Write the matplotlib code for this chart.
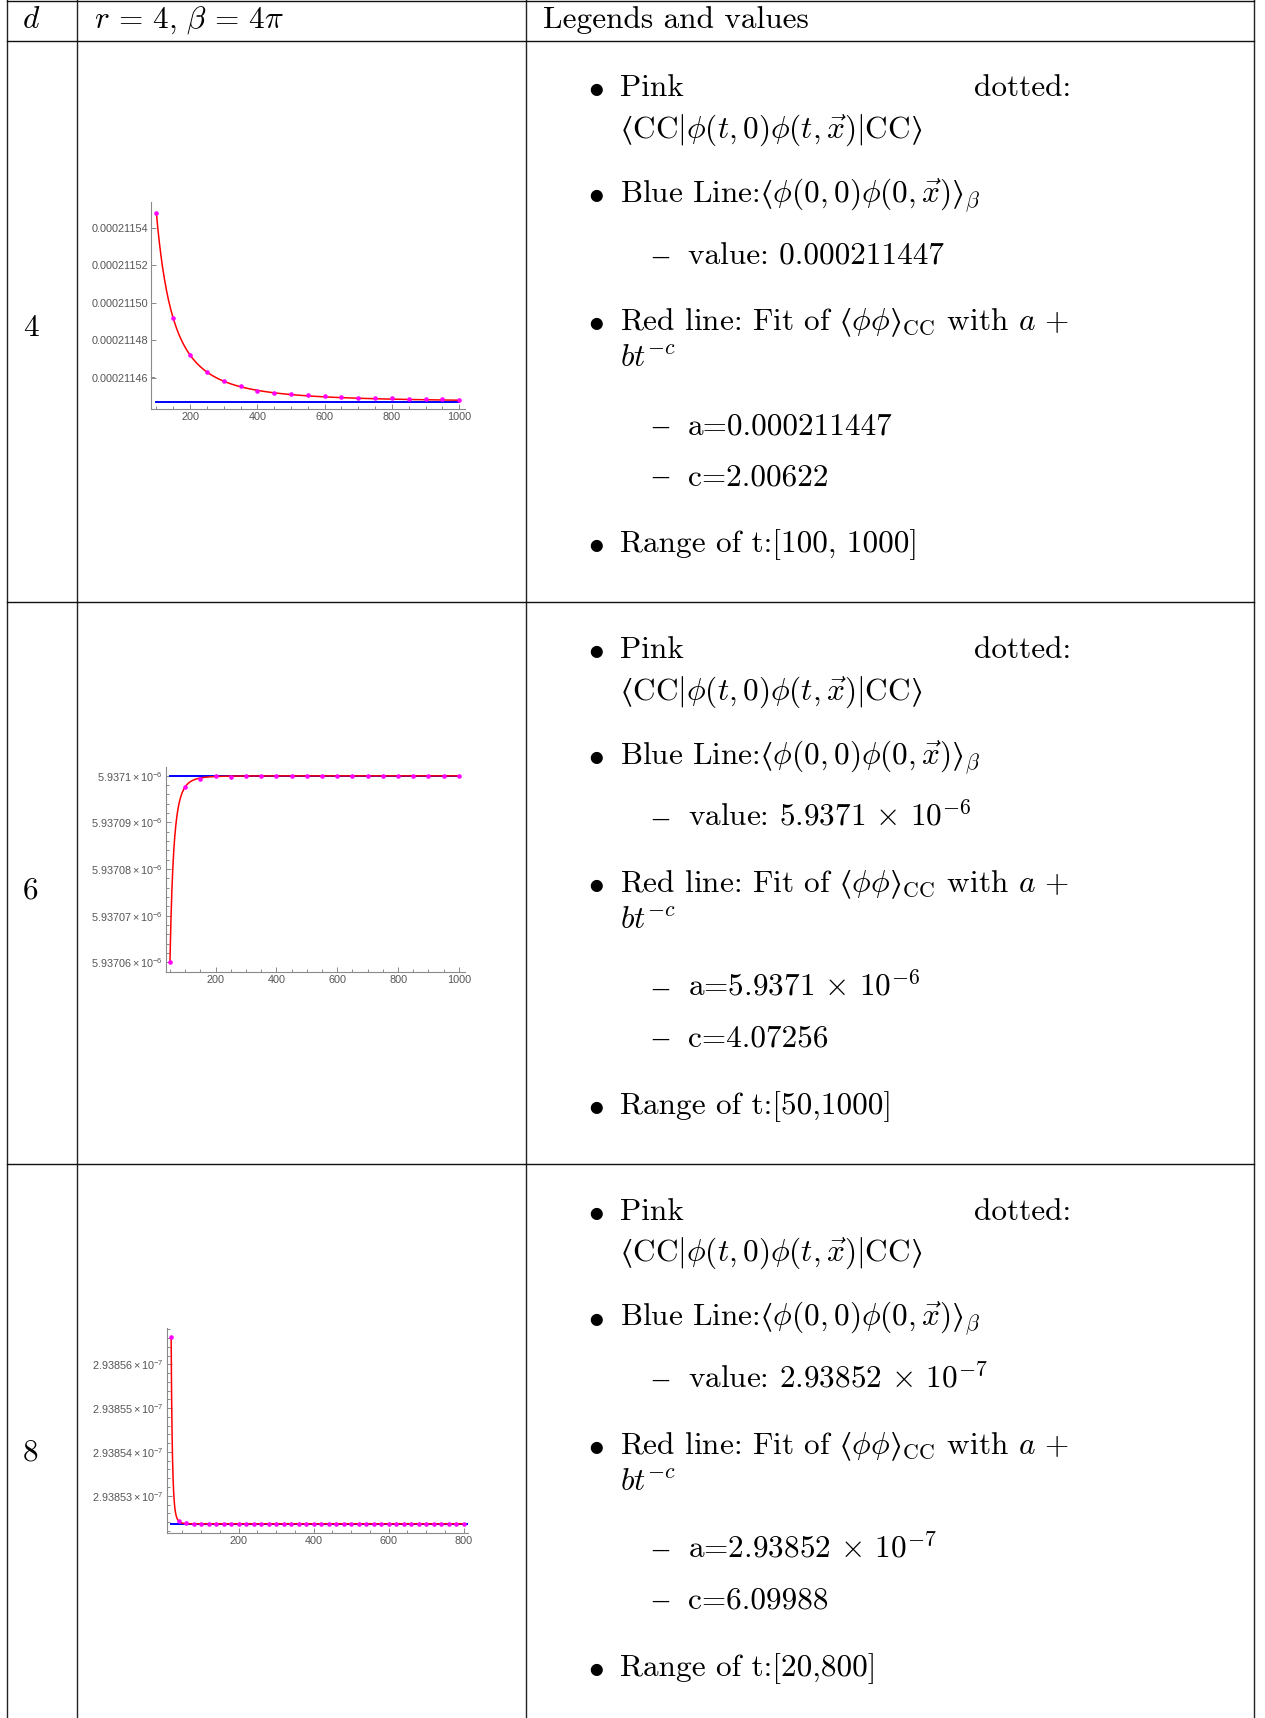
import numpy as np
import matplotlib.pyplot as plt
from matplotlib.lines import Line2D
from matplotlib.ticker import FixedLocator, FuncFormatter

plt.rcParams['mathtext.fontset'] = 'custom'
plt.rcParams['mathtext.rm'] = 'Liberation Sans'
plt.rcParams['mathtext.it'] = 'Liberation Sans:italic'
plt.rcParams['mathtext.bf'] = 'Liberation Sans:bold'

W, H = 1265, 1718

# ---- data ----
d_vals = ['4', '6', '8']

t1 = [100, 150, 200, 250, 300, 350, 400, 450, 500, 550, 600, 650, 700, 750, 800, 850, 900, 950, 1000]
cc1 = [2.115477e-4, 2.114918e-4, 2.114721e-4, 2.114632e-4, 2.114584e-4, 2.114554e-4, 2.114531e-4,
       2.114518e-4, 2.114511e-4, 2.114506e-4, 2.114500e-4, 2.114497e-4, 2.114492e-4, 2.114490e-4,
       2.114490e-4, 2.114485e-4, 2.114485e-4, 2.114485e-4, 2.114483e-4]
a1, c1 = 0.000211447, 2.00622

t2 = [50, 100, 150, 200, 250, 300, 350, 400, 450, 500, 550, 600, 650, 700, 750, 800, 850, 900, 950, 1000]
cc2 = [5.9370600e-6, 5.9370976e-6, 5.9370994e-6, 5.9370999e-6, 5.9370998e-6] + [5.9371000e-6] * 15
a2, c2 = 5.9371e-6, 4.07256

t3 = [20, 40, 60, 80, 100, 120, 140, 160, 180, 200, 220, 240, 260, 280, 300, 320, 340, 360, 380, 400,
      420, 440, 460, 480, 500, 520, 540, 560, 580, 600, 620, 640, 660, 680, 700, 720, 740, 760, 780, 800]
cc3 = [2.9385662e-7, 2.9385243e-7, 2.9385237e-7] + [2.9385236e-7] * 37
a3, c3 = 2.9385236e-7, 6.09988

yt1 = [0.00021146, 0.00021148, 0.00021150, 0.00021152, 0.00021154]
yt2 = [5.93706e-6, 5.93707e-6, 5.93708e-6, 5.93709e-6, 5.93710e-6]
yt3 = [2.93853e-7, 2.93854e-7, 2.93855e-7, 2.93856e-7]
xt1 = [200, 400, 600, 800, 1000]
xt3 = [200, 400, 600, 800]

value_txt = ['value: 0.000211447', r'value: $5.9371\,\times\,10^{-6}$', r'value: $2.93852\,\times\,10^{-7}$']
a_txt = ['a=0.000211447', r'a=$5.9371\,\times\,10^{-6}$', r'a=$2.93852\,\times\,10^{-7}$']
c_txt = ['c=2.00622', 'c=4.07256', 'c=6.09988']
range_txt = ['Range of t:[100, 1000]', 'Range of t:[50,1000]', 'Range of t:[20,800]']


def fx(x):
    return x / W


def fy(y):
    return 1 - y / H


fig = plt.figure(figsize=(W / 100, H / 100), dpi=100)

# table lines
lw = 1.0
for x in [7, 77, 526, 1254]:
    fig.add_artist(Line2D([fx(x), fx(x)], [fy(0), fy(H)], color='#222222', lw=lw))
for y in [1, 40.5, 602.4, 1164.2]:
    fig.add_artist(Line2D([fx(7), fx(1254)], [fy(y), fy(y)], color='#111111', lw=lw))

fs = 22.5
tkw = dict(fontsize=fs, family='cmr10', math_fontfamily='cm', va='baseline')

# header
fig.text(fx(31), fy(28), r'$d$', ha='center', **tkw)
fig.text(fx(94), fy(28), r'$r\,=\,4,\,\beta\,=\,4\pi$', ha='left', **tkw)
fig.text(fx(543), fy(28), 'Legends and values', ha='left', **tkw)

lang, rang = '\u27e8', '\u27e9'

row_tops = [40.5, 602.4, 1164.2]
for i, top in enumerate(row_tops):
    fig.text(fx(31), fy(top + 296), d_vals[i], ha='center', **tkw)
    bx, tx, dx, sx = 596, 620, 660, 688

    def bullet(off):
        fig.text(fx(bx), fy(top + off), r'$\bullet$', ha='center', **tkw)

    def dash(off):
        fig.text(fx(dx), fy(top + off), '\u2013', ha='center', fontsize=23,
                 family='Liberation Serif', va='baseline')

    bullet(56)
    fig.text(fx(tx), fy(top + 56), 'Pink', ha='left', **tkw)
    fig.text(fx(1071), fy(top + 56), 'dotted:', ha='right', **tkw)
    fig.text(fx(tx), fy(top + 97),
             r'$%s\mathrm{CC}|\phi(t,0)\phi(t,\vec{x})|\mathrm{CC}%s$' % (lang, rang), ha='left', **tkw)
    bullet(162)
    fig.text(fx(tx), fy(top + 162), r'Blue Line:$%s\phi(0,0)\phi(0,\vec{x})%s_\beta$' % (lang, rang),
             ha='left', **tkw)
    dash(224)
    fig.text(fx(sx), fy(top + 224), value_txt[i], ha='left', **tkw)
    bullet(290)
    fig.text(fx(tx), fy(top + 290),
             r'Red line: Fit of $%s\phi\phi%s_{\mathrm{CC}}$ with $a\,+$' % (lang, rang), ha='left', **tkw)
    fig.text(fx(tx), fy(top + 326), r'$bt^{-c}$', ha='left', **tkw)
    dash(394)
    fig.text(fx(sx), fy(top + 394), a_txt[i], ha='left', **tkw)
    dash(444.5)
    fig.text(fx(sx), fy(top + 444.5), c_txt[i], ha='left', **tkw)
    bullet(511.5)
    fig.text(fx(tx), fy(top + 511.5), range_txt[i], ha='left', **tkw)


def fmt1(v, p):
    return '%.8f' % v


def sci(exp):
    def f(v, p):
        m = ('%.5f' % (v * 10 ** exp)).rstrip('0')
        return r'$%s\times10^{-%d}$' % (m, exp)
    return f


panels = [
    dict(box=(151, 202, 465, 409), t=t1, y=cc1, a=a1, c=c1, xlim=(84, 1017),
         ylim=(0.0002114433, 0.0002115537), yt=yt1, ymin=0.5e-11, xt=xt1, fmt=fmt1, blue=(100, 1000)),
    dict(box=(166, 767, 465, 972), t=t2, y=cc2, a=a2, c=c2, xlim=(37, 1020),
         ylim=(5.9370579e-6, 5.9371019e-6), yt=yt2, ymin=0.2e-11, xt=xt1, fmt=sci(6), blue=(50, 1000)),
    dict(box=(167, 1328, 468, 1533), t=t3, y=cc3, a=a3, c=c3, xlim=(9, 812),
         ylim=(2.9385215e-7, 2.9385683e-7), yt=yt3, ymin=0.2e-12, xt=xt3, fmt=sci(7), blue=(20, 812)),
]

gray = '#8a8a8a'
for p in panels:
    l, t, r, b = p['box']
    ax = fig.add_axes([fx(l), fy(b), (r - l) / W, (b - t) / H])
    tt = np.array(p['t'], float)
    yy = np.array(p['y'])
    # fit b with the given a and c
    f = tt ** (-p['c'])
    bcoef = np.sum(f * (yy - p['a'])) / np.sum(f * f)
    ts = np.linspace(tt[0], tt[-1], 600)
    ax.plot(p['blue'], [p['a'], p['a']], color='#0000ff', lw=1.4, zorder=2)
    ax.plot(ts, p['a'] + bcoef * ts ** (-p['c']), color='#ff0000', lw=1.1, zorder=3)
    ax.plot(tt, yy, 'o', color='#ff00ff', ms=3.3, mew=0, zorder=4)
    ax.set_xlim(*p['xlim'])
    ax.set_ylim(*p['ylim'])
    for s in ['top', 'right']:
        ax.spines[s].set_visible(False)
    for s in ['left', 'bottom']:
        ax.spines[s].set_color(gray)
        ax.spines[s].set_linewidth(0.8)
    ax.xaxis.set_major_locator(FixedLocator(p['xt']))
    ax.xaxis.set_minor_locator(FixedLocator(np.arange(50, p['xlim'][1], 50)))
    ax.yaxis.set_major_locator(FixedLocator(p['yt']))
    step = p['ymin']
    ax.yaxis.set_minor_locator(FixedLocator(p['yt'][0] + step * np.arange(-10, 60)))
    ax.yaxis.set_major_formatter(FuncFormatter(p['fmt']))
    ax.tick_params(which='both', direction='in', color=gray, width=0.7,
                   labelcolor='#555555', labelsize=7.8, pad=2)
    ax.tick_params(which='major', length=3.5)
    ax.tick_params(which='minor', length=2)
    for lab in ax.get_xticklabels() + ax.get_yticklabels():
        lab.set_family('Liberation Sans')
    ax.patch.set_alpha(0)

fig.savefig('out.png', dpi=100)
